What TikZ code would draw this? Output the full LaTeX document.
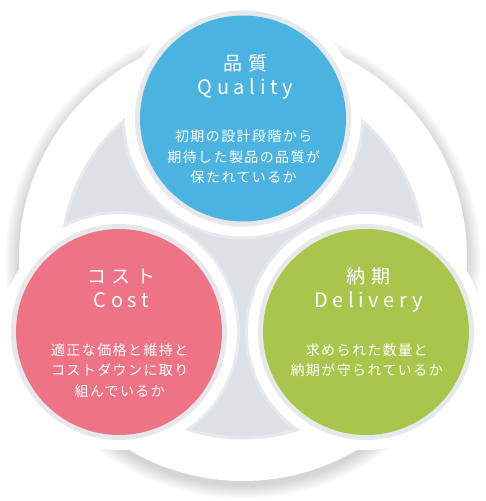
\documentclass[tikz,border=0pt]{standalone}
\usepackage{fontspec}
\setmainfont{Noto Sans CJK JP}
\newfontfamily\ttlfont[LetterSpace=27]{Noto Sans CJK JP}
\newfontfamily\ttlenfont[LetterSpace=23]{Noto Sans CJK JP}
\newfontfamily\bodyfont[LetterSpace=10]{Noto Sans CJK JP}
\definecolor{qblue}{HTML}{4BB3E0}
\definecolor{cpink}{HTML}{EE7385}
\definecolor{dgreen}{HTML}{A8C64C}
\definecolor{diskgray}{HTML}{DDE0E4}
\definecolor{diskedge}{HTML}{E7E9EC}
\definecolor{ringgray}{HTML}{E6E8EB}
\tikzset{
  outerw/.style={circle,fill=white,minimum size=236pt,inner sep=0pt},
  ringg/.style={circle,fill=ringgray,minimum size=216pt,inner sep=0pt},
  core/.style={circle,minimum size=206pt,inner sep=0pt},
  ttljp/.style={anchor=base,text=white,font=\ttlfont\fontsize{19pt}{19pt}\selectfont,xshift=2.5pt},
  ttlen/.style={anchor=base,text=white,font=\ttlenfont\fontsize{20pt}{20pt}\selectfont,xshift=2.3pt},
  bodyline/.style={anchor=base,text=white,font=\bodyfont\fontsize{14pt}{14pt}\selectfont,xshift=0.7pt},
}
\begin{document}
\begin{tikzpicture}[x=1pt,y=-1pt]
\useasboundingbox (0,0) rectangle (486,501);
% soft shadow of the large white disc
\foreach \i in {1,...,14}
  \fill[black,opacity=0.012] (243,261) circle[radius={(224+\i)*1pt}];
\node[circle,fill=white,minimum size=448pt,inner sep=0pt] (big) at (243,257) {};
\node[circle,fill=diskgray,draw=diskedge,line width=3pt,minimum size=362pt,inner sep=0pt] (disk) at (243,257) {};
% faint edges of the rings on the gray disc
\begin{scope}
  \clip (243,257) circle[radius=181pt];
  \foreach \cx/\cy in {243/118.5, 119/332, 366/332}
    \draw[diskedge,line width=3pt] (\cx,\cy) circle[radius=119.5pt];
\end{scope}
% Quality
\node[outerw] (qw) at (243,118.5) {};
\node[ringg] (qr) at (qw) {};
\node[core,fill=qblue] (q) at (qw) {};
% Cost
\node[outerw] (cw) at (119,332) {};
\node[ringg] (cr) at (cw) {};
\node[core,fill=cpink] (c) at (cw) {};
% Delivery
\node[outerw] (dw) at (366,332) {};
\node[ringg] (dr) at (dw) {};
\node[core,fill=dgreen] (d) at (dw) {};
% texts: Quality
\node[ttljp] (q1) at (243,70) {品質};
\node[ttlen] (q2) at (243,94) {Quality};
\node[bodyline] (q3) at (243,141.5) {初期の設計段階から};
\node[bodyline] (q4) at (243,162) {期待した製品の品質が};
\node[bodyline] (q5) at (243,182.5) {保たれているか};
% texts: Cost
\node[ttljp] (c1) at (119,283.5) {コスト};
\node[ttlen] (c2) at (119,307.5) {Cost};
\node[bodyline] (c3) at (119,355) {適正な価格と維持と};
\node[bodyline] (c4) at (119,375.5) {コストダウンに取り};
\node[bodyline] (c5) at (119,396) {組んでいるか};
% texts: Delivery
\node[ttljp] (d1) at (366,283.5) {納期};
\node[ttlen] (d2) at (366,307.5) {Delivery};
\node[bodyline] (d3) at (366,355) {求められた数量と};
\node[bodyline] (d4) at (366,375.5) {納期が守られているか};
\end{tikzpicture}
\end{document}
